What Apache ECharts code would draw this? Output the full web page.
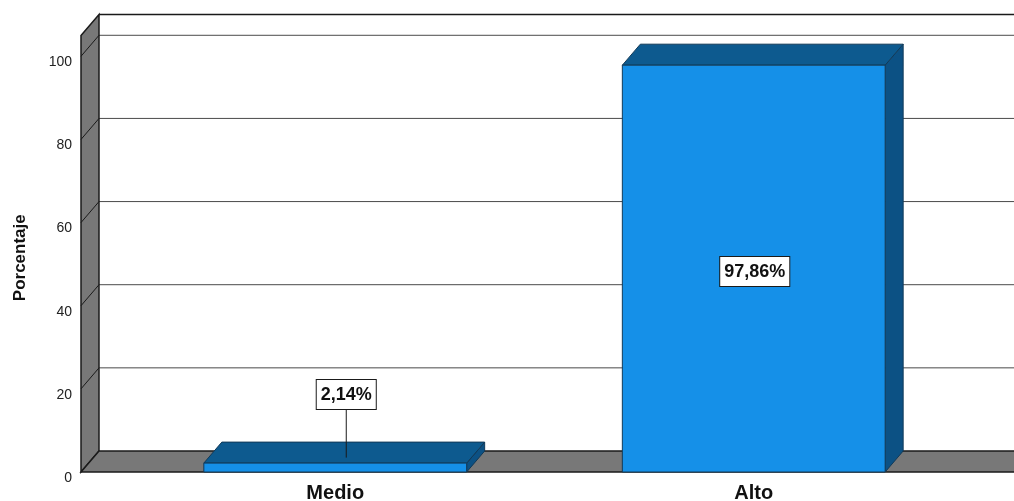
<!DOCTYPE html>
<html>
<head>
<meta charset="utf-8">
<script src="https://cdn.jsdelivr.net/npm/echarts@6/dist/echarts.min.js"></script>
<style>
html,body{margin:0;padding:0;background:#fff;}
#chart{width:1014px;height:501px;}
</style>
</head>
<body>
<div id="chart"></div>
<script>
const categories = ['Medio', 'Alto'];
const values = [2.14, 97.86];
const yTicks = [0, 20, 40, 60, 80, 100];

const DX = 18, DY = 21;
const FONT = 'Liberation Sans, Arial, sans-serif';
const chart = echarts.init(document.getElementById('chart'));

function fmt(v){ return v.toFixed(2).replace('.', ',') + '%'; }

function renderWalls(params, api){
  const cs = params.coordSys;
  const y0 = api.coord([0, 0])[1];
  const yTop = cs.y;
  const fx = cs.x - 45;
  const bx = fx + DX;
  const right = 1030;
  const children = [];
  children.push({type:'polygon', shape:{points:[[bx,yTop-DY],[right,yTop-DY],[right,y0-DY],[bx,y0-DY]]},
    style:{fill:'#ffffff', stroke:null}});
  yTicks.forEach(function(t){
    if (t === 0) return;
    const y = api.coord([0, t])[1];
    children.push({type:'line', shape:{x1:bx, y1:y-DY, x2:right, y2:y-DY}, style:{stroke:'#4a4a4a', lineWidth:1}});
  });
  children.push({type:'polygon', shape:{points:[[fx,yTop],[bx,yTop-DY],[bx,y0-DY],[fx,y0]]},
    style:{fill:'#787878', stroke:'#1a1a1a', lineWidth:1.5}});
  yTicks.forEach(function(t){
    if (t === 0) return;
    const y = api.coord([0, t])[1];
    children.push({type:'line', shape:{x1:fx, y1:y, x2:bx, y2:y-DY}, style:{stroke:'#1a1a1a', lineWidth:1}});
  });
  children.push({type:'line', shape:{x1:bx, y1:yTop-DY, x2:right, y2:yTop-DY}, style:{stroke:'#1a1a1a', lineWidth:1.5}});
  children.push({type:'polygon', shape:{points:[[fx,y0],[bx,y0-DY],[right,y0-DY],[right,y0]]},
    style:{fill:'#787878', stroke:'#1a1a1a', lineWidth:1.5}});
  return {type:'group', children:children};
}

function renderBar(params, api){
  const xi = api.value(0), v = api.value(1);
  const base = api.coord([xi, 0]);
  const top = api.coord([xi, v]);
  const bw = api.size([1, 0])[0] * 0.628;
  const l = base[0] - bw/2, r = base[0] + bw/2;
  const yb = base[1], yt = top[1];
  const edge = '#123a58';
  const children = [
    {type:'polygon', shape:{points:[[r,yt],[r+DX,yt-DY],[r+DX,yb-DY],[r,yb]]},
      style:{fill:'#0c5184', stroke:edge, lineWidth:1}},
    {type:'polygon', shape:{points:[[l,yt],[l+DX,yt-DY],[r+DX,yt-DY],[r,yt]]},
      style:{fill:'#0d5a8f', stroke:edge, lineWidth:1}},
    {type:'rect', shape:{x:l, y:yt, width:bw, height:yb-yt},
      style:{fill:'#1590e8', stroke:edge, lineWidth:1}}
  ];
  const txtStyle = {
    text: fmt(v), font: 'bold 18px ' + FONT, fill:'#111',
    backgroundColor:'#ffffff', borderColor:'#1a1a1a', borderWidth:1,
    padding:[6,4,5,4], align:'center', verticalAlign:'middle'
  };
  if (yb - yt > 60) {
    children.push({type:'text', x:base[0] + 1, y:(yt+yb)/2 + 3, style:txtStyle});
  } else {
    const cx = base[0] + DX/2 + 2, cy = yt - DY/2 + 5;
    const by = cy - 63;
    children.push({type:'line', shape:{x1:cx, y1:by+15, x2:cx, y2:cy}, style:{stroke:'#1a1a1a', lineWidth:1}});
    children.push({type:'text', x:cx, y:by, style:txtStyle});
  }
  return {type:'group', children:children};
}

chart.setOption({
  animation:false,
  grid:{left:126, right:51, top:35.5, bottom:29, containLabel:false, outerBoundsMode:'none'},
  xAxis:{
    type:'category', data:categories,
    axisLine:{show:false}, axisTick:{show:false}, splitLine:{show:false},
    axisLabel:{margin:11, fontFamily:FONT, fontWeight:'bold', fontSize:20, color:'#111'}
  },
  yAxis:{
    type:'value', min:0, max:105,
    axisLine:{show:false}, axisTick:{show:false}, splitLine:{show:false},
    axisLabel:{margin:54, fontFamily:FONT, fontSize:14, color:'#222',
      verticalAlign:'top', lineHeight:12, customValues: yTicks},
    name:'Porcentaje', nameLocation:'middle', nameGap:97,
    nameTextStyle:{fontFamily:FONT, fontWeight:'bold', fontSize:17, color:'#111', padding:[0,8,0,0]}
  },
  series:[
    {type:'custom', renderItem:renderWalls, data:[[0,0]], clip:false, silent:true, z:1},
    {type:'custom', renderItem:renderBar, clip:false, z:2,
      data: categories.map(function(c,i){ return [i, values[i]]; })}
  ]
});
</script>
</body>
</html>
